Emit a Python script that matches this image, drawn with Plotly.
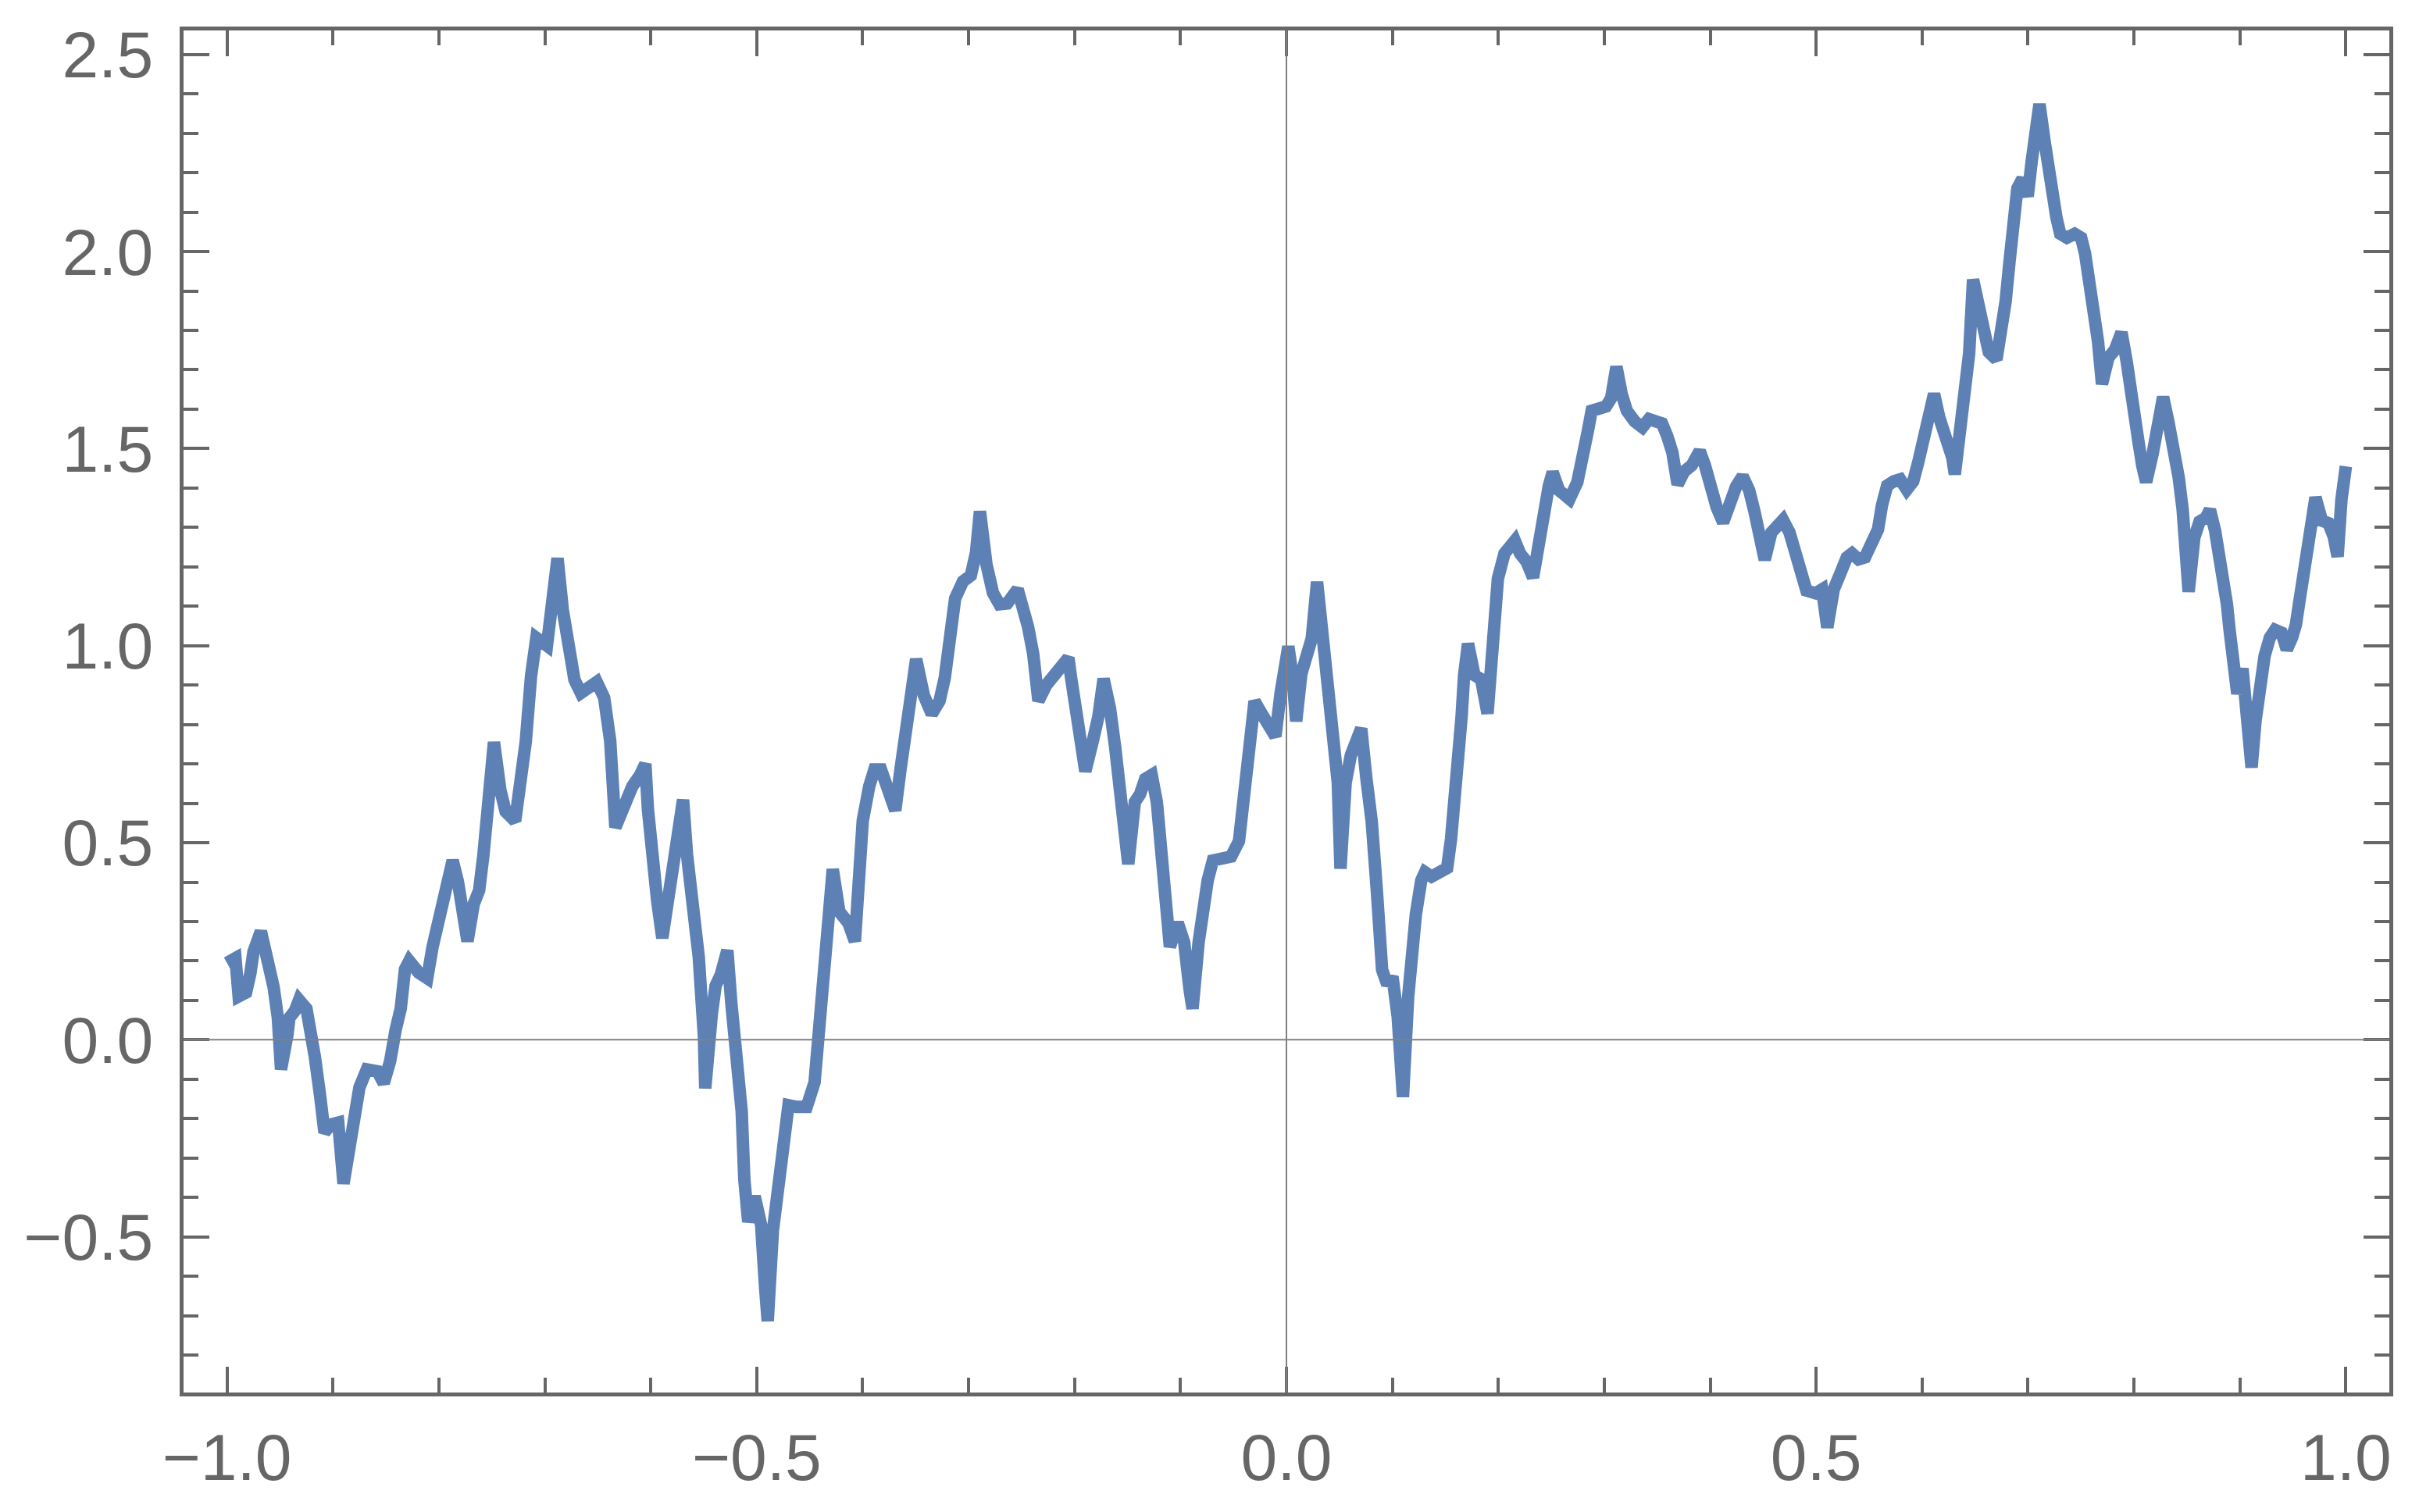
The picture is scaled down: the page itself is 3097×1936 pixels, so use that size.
import plotly.graph_objects as go

# ---- data: Brownian-like path ----
x_vals = [
    -1.000, -0.992, -0.989, -0.982, -0.978, -0.975, -0.968, -0.962, -0.956, -0.952,
    -0.949, -0.943, -0.941, -0.936, -0.932, -0.925, -0.920, -0.917, -0.912, -0.908,
    -0.902, -0.895, -0.890, -0.885, -0.881, -0.875, -0.868, -0.858, -0.852, -0.846,
    -0.841, -0.836, -0.832, -0.828, -0.819, -0.811, -0.806, -0.801, -0.796, -0.791,
    -0.787, -0.782, -0.777, -0.773, -0.767, -0.762, -0.758, -0.753, -0.748, -0.742,
    -0.737, -0.728, -0.723, -0.718, -0.713, -0.708, -0.698, -0.693, -0.688, -0.683,
    -0.678, -0.672, -0.666, -0.659, -0.651, -0.644,
    -0.6383, -0.6334, -0.6248, -0.6174, -0.6100, -0.6051, -0.6027, -0.5990, -0.5940, -0.5891,
    -0.5818, -0.5756, -0.5695, -0.5658, -0.5609, -0.5547, -0.5498, -0.5486, -0.5424, -0.5388,
    -0.5338, -0.5277, -0.5240, -0.5191, -0.5142, -0.5117, -0.5080, -0.5019, -0.4958, -0.4921,
    -0.4896, -0.4847, -0.4798, -0.4749, -0.4700, -0.4626, -0.4528, -0.4454, -0.4429, -0.4392,
    -0.4356, -0.4319, -0.4282, -0.4220, -0.4134, -0.4073, -0.4036, -0.3999, -0.3938, -0.3889,
    -0.3827, -0.3766, -0.3692, -0.3643, -0.3594, -0.3545, -0.3495, -0.3422, -0.3348, -0.3274,
    -0.3225, -0.3176, -0.3127, -0.3053, -0.2979, -0.2930, -0.2893, -0.2832, -0.2770, -0.2709,
    -0.2636, -0.2537, -0.2488, -0.2439, -0.2390, -0.2341, -0.2267, -0.2193, -0.2120, -0.2058,
    -0.2033, -0.1997, -0.1947, -0.1898, -0.1825, -0.1775, -0.1726, -0.1665, -0.1616, -0.1579,
    -0.1530, -0.1493, -0.1431, -0.1382, -0.1333, -0.1272, -0.1223, -0.1186, -0.1137, -0.1100,
    -0.1026, -0.0965, -0.0915, -0.0886, -0.0829, -0.0793, -0.0743, -0.0694, -0.0596, -0.0522,
    -0.0448, -0.0399, -0.0350, -0.0301, -0.0240, -0.0178, -0.0104, -0.0055, -0.0018, 0.0018,
    0.0055, 0.0092, 0.0141, 0.0190, 0.0239, 0.0289, 0.0338, 0.0387, 0.0436, 0.0485,
    0.0510, 0.0559, 0.0608, 0.0657, 0.0706, 0.0755, 0.0805, 0.0854, 0.0903, 0.0952,
    0.1001, 0.1050, 0.1100, 0.1149,
    0.1186, 0.1222, 0.1272, 0.1308, 0.1370, 0.1444, 0.1517, 0.1554, 0.1591, 0.1628,
    0.1653, 0.1677, 0.1714, 0.1775, 0.1837, 0.1898, 0.1947, 0.1972, 0.1996, 0.2058,
    0.2107, 0.2156, 0.2205, 0.2267, 0.2328, 0.2377, 0.2426, 0.2476, 0.2513, 0.2574,
    0.2623, 0.2672, 0.2746, 0.2807, 0.2844, 0.2881, 0.2943, 0.3016, 0.3065, 0.3115,
    0.3164, 0.3213, 0.3287, 0.3360, 0.3422, 0.3483, 0.3545, 0.3594, 0.3643, 0.3692,
    0.3754, 0.3827, 0.3901, 0.3950, 0.3999, 0.4061, 0.4122, 0.4184, 0.4245, 0.4306,
    0.4368, 0.4417, 0.4466, 0.4515, 0.4577, 0.4638, 0.4687, 0.4749, 0.4810, 0.4859,
    0.4908,
    0.4994, 0.5056, 0.5105, 0.5166, 0.5228, 0.5289, 0.5338, 0.5400, 0.5461, 0.5523,
    0.5584, 0.5621, 0.5670, 0.5732, 0.5793, 0.5855, 0.5916, 0.5965, 0.6014, 0.6063,
    0.6113, 0.6162, 0.6223, 0.6285, 0.6309, 0.6358, 0.6407, 0.6444, 0.6481, 0.6530,
    0.6579, 0.6629, 0.6702, 0.6751, 0.6788, 0.6825, 0.6862, 0.6899, 0.6948, 0.6997,
    0.7034, 0.7071, 0.7108, 0.7157, 0.7194, 0.7231, 0.7268, 0.7304, 0.7366, 0.7440,
    0.7501, 0.7538, 0.7575, 0.7624, 0.7661, 0.7698, 0.7759, 0.7820, 0.7882, 0.7931,
    0.7980, 0.8005, 0.8042, 0.8078, 0.8115, 0.8177, 0.8226, 0.8275, 0.8324, 0.8373,
    0.8422, 0.8459, 0.8496, 0.8516, 0.8570, 0.8619, 0.8680,
    0.8717, 0.8766, 0.8803, 0.8840, 0.8877, 0.8902, 0.8926, 0.8938, 0.8975, 0.9024,
    0.9061, 0.9086, 0.9110, 0.9147, 0.9184, 0.9233, 0.9282, 0.9332, 0.9393, 0.9442,
    0.9491, 0.9528, 0.9565, 0.9602, 0.9639, 0.9676, 0.9713, 0.9774, 0.9835, 0.9885,
    0.9922, 0.9958, 0.9995, 1.0000,
]

y_vals = [
    0.195, 0.207, 0.110, 0.120, 0.167, 0.223, 0.275, 0.212, 0.134, 0.056,
    -0.075, 0.012, 0.056, 0.073, 0.101, 0.079, 0.023, -0.044, -0.144, -0.235,
    -0.215, -0.210, -0.365, -0.288, -0.189, -0.121, -0.075, -0.080, -0.110, -0.054,
    0.023, 0.079, 0.179, 0.200, 0.170, 0.156, 0.235, 0.290, 0.368, 0.424,
    0.455, 0.401, 0.334, 0.250, 0.345, 0.379, 0.468, 0.601, 0.755, 0.634,
    0.579, 0.555, 0.634, 0.756, 0.923, 1.020, 1.000, 1.124, 1.222, 1.090,
    0.990, 0.913, 0.880, 0.891, 0.908, 0.868,
    0.759, 0.539, 0.600, 0.643, 0.672, 0.700, 0.585, 0.470, 0.354, 0.258,
    0.383, 0.470, 0.609, 0.470, 0.354, 0.210, 0.007, -0.123, 0.065, 0.137,
    0.166, 0.227, 0.094, -0.036, -0.181, -0.354, -0.462, -0.397, -0.470, -0.628,
    -0.714, -0.484, -0.354, -0.224, -0.166, -0.170, -0.170, -0.108, -0.036, 0.065,
    0.195, 0.354, 0.433, 0.325, 0.296, 0.250, 0.441, 0.556, 0.643, 0.686,
    0.686, 0.643, 0.582, 0.686, 0.773, 0.860, 0.966, 0.874, 0.827, 0.860,
    0.918, 1.019, 1.120, 1.163, 1.178, 1.236, 1.341, 1.207, 1.134, 1.105,
    1.107, 1.143, 1.107, 1.048, 0.979, 0.860, 0.900, 0.929, 0.949, 0.969,
    0.919, 0.840, 0.761, 0.681, 0.761, 0.820, 0.916, 0.840, 0.741, 0.662,
    0.544, 0.446, 0.603, 0.623, 0.662, 0.672, 0.603, 0.504, 0.386, 0.236,
    0.297, 0.247, 0.129, 0.079, 0.247, 0.346, 0.405, 0.455, 0.465, 0.465,
    0.504, 0.603, 0.741, 0.859, 0.830, 0.801, 0.770, 0.880, 0.979, 0.998,
    0.929, 0.808, 0.929, 0.969, 1.018, 1.162, 1.038, 0.949, 0.801, 0.652,
    0.434, 0.652, 0.722, 0.751, 0.790, 0.662, 0.554, 0.376, 0.178, 0.140,
    0.160, 0.059, -0.145, 0.109,
    0.244, 0.319, 0.404, 0.425, 0.414, 0.425, 0.436, 0.510, 0.606, 0.723,
    0.819, 0.925, 1.005, 0.925, 0.915, 0.828, 1.000, 1.117, 1.170, 1.234,
    1.255, 1.266, 1.234, 1.213, 1.173, 1.266, 1.330, 1.404, 1.440, 1.394,
    1.383, 1.372, 1.415, 1.479, 1.543, 1.596, 1.601, 1.607, 1.628, 1.708,
    1.639, 1.596, 1.569, 1.554, 1.575, 1.569, 1.564, 1.532, 1.490, 1.409,
    1.442, 1.458, 1.494, 1.458, 1.394, 1.351, 1.313, 1.362, 1.404, 1.430,
    1.394, 1.341, 1.266, 1.218, 1.287, 1.309, 1.319, 1.287, 1.234, 1.181,
    1.140,
    1.133, 1.143, 1.046, 1.143, 1.183, 1.224, 1.234, 1.219, 1.224, 1.254,
    1.295, 1.356, 1.406, 1.417, 1.422, 1.396, 1.417, 1.467, 1.528, 1.599,
    1.639, 1.579, 1.538, 1.477, 1.435, 1.569, 1.640, 1.741, 1.929, 1.853,
    1.792, 1.745, 1.726, 1.792, 1.873, 1.974, 2.076, 2.160, 2.185, 2.140,
    2.228, 2.299, 2.374, 2.278, 2.197, 2.136, 2.086, 2.045, 2.035, 2.045,
    2.035, 1.995, 1.934, 1.853, 1.771, 1.664, 1.731, 1.751, 1.795, 1.721,
    1.650, 1.589, 1.518, 1.457, 1.415, 1.488, 1.548, 1.631, 1.569, 1.508,
    1.427, 1.346, 1.244, 1.137, 1.275, 1.315, 1.325,
    1.345, 1.291, 1.238, 1.172, 1.106, 1.040, 0.974, 0.914, 0.878, 0.942,
    0.855, 0.776, 0.691, 0.809, 0.908, 0.974, 1.020, 1.040, 1.033, 0.990,
    1.020, 1.053, 1.119, 1.198, 1.271, 1.350, 1.376, 1.317, 1.311, 1.277,
    1.226, 1.370, 1.436, 1.455,
]

x_ticks = [-1.0, -0.5, 0.0, 0.5, 1.0]
y_ticks = [-0.5, 0.0, 0.5, 1.0, 1.5, 2.0, 2.5]
x_range = [-1.041, 1.041]
y_range = [-0.895, 2.561]

FRAME = "#666666"
LINE = "#5E81B5"
FONT = "Liberation Sans, Arial, sans-serif"

fig = go.Figure()
fig.add_trace(go.Scatter(
    x=x_vals, y=y_vals, mode="lines",
    line=dict(color=LINE, width=16),
    hoverinfo="skip", showlegend=False,
))

axis_common = dict(
    showline=True, linecolor=FRAME, linewidth=5, mirror="ticks",
    ticks="inside", ticklen=33, tickwidth=4, tickcolor=FRAME,
    showgrid=False, zeroline=False, automargin=False,
    tickfont=dict(family=FONT, size=84, color=FRAME),
    tickformat=".1f",
    minor=dict(dtick=0.1, ticks="inside", ticklen=19, tickwidth=4,
               tickcolor=FRAME, showgrid=False),
)

fig.update_xaxes(range=x_range, tickvals=x_ticks, ticklabelstandoff=6, **axis_common)
fig.update_yaxes(range=y_range, tickvals=y_ticks, ticklabelstandoff=17, **axis_common)

# Mathematica-style axes through the origin, drawn over the curve
fig.add_shape(type="line", xref="x", yref="paper", x0=0, x1=0, y0=0, y1=1,
              line=dict(color="#808080", width=2), layer="above")
fig.add_shape(type="line", xref="paper", yref="y", x0=0, x1=1, y0=0, y1=0,
              line=dict(color="#808080", width=2), layer="above")

fig.update_layout(
    width=3097, height=1936,
    margin=dict(l=235, r=38, t=39, b=153, pad=0),
    paper_bgcolor="white", plot_bgcolor="white",
)

fig.write_html(
    "out.html",
    config={"displayModeBar": False},
    post_script="document.body.style.margin='0';document.body.style.padding='0';",
)
